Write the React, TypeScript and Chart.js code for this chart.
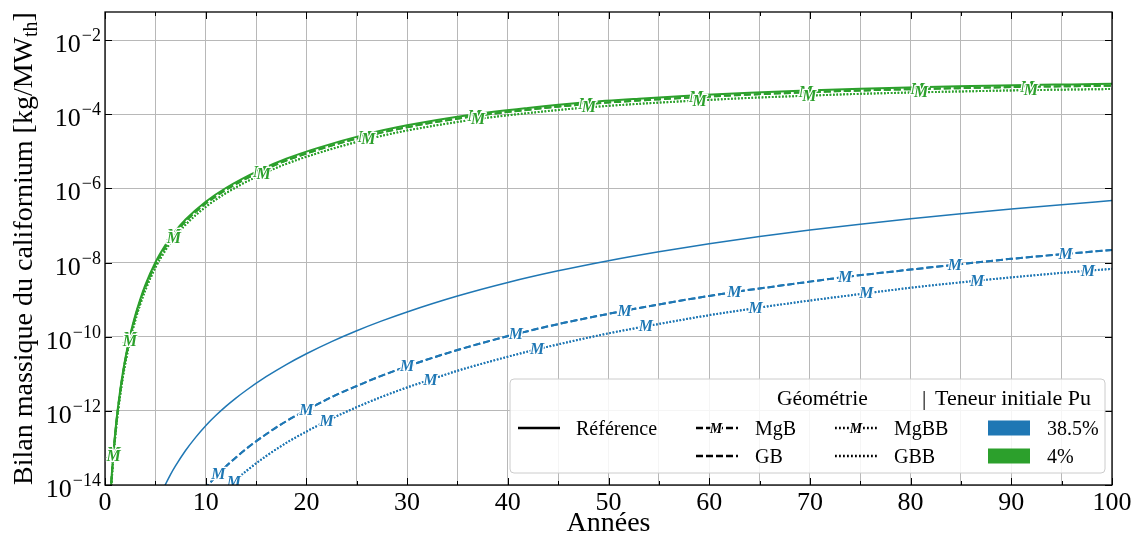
import React, { useEffect, useRef } from 'react';
import { Chart, registerables } from 'chart.js';

Chart.register(...registerables);

const FONT = '"Liberation Serif", "Times New Roman", serif';
const BLUE = '#1f77b4';
const GREEN = '#2ca02c';

// ---- 4% Pu (green): years and log10 of the mass [kg/MWth]
const gYears = [0.45, 0.55, 0.65, 0.75, 0.85, 1.0, 1.2, 1.5, 1.8, 2.1, 2.48, 3.0, 3.5, 4.0, 5.0, 6.0, 6.85, 8.0, 10, 12, 15.4, 18, 21, 25.8, 30, 36.7, 42, 47.7, 53, 58.7, 64, 69.6, 75, 80.7, 86, 91.6, 96, 100];
const gYearsBB = [0.45, 0.55, 0.65, 0.75, 0.85, 1.0, 1.2, 1.5, 1.8, 2.1, 2.48, 3.0, 3.5, 4.0, 5.0, 6.0, 6.85, 8.0, 10, 12, 15.75, 18, 21, 26.15, 30, 37.05, 42, 48.05, 53, 59.05, 64, 69.95, 75, 81.05, 86, 91.95, 96, 100];
const gRef = [-14.71, -14.23, -13.80, -13.42, -13.08, -12.63, -12.10, -11.46, -10.92, -10.47, -9.98, -9.43, -8.99, -8.61, -8.00, -7.53, -7.20, -6.84, -6.36, -5.99, -5.50, -5.20, -4.92, -4.55, -4.30, -4.00, -3.83, -3.68, -3.58, -3.49, -3.42, -3.36, -3.31, -3.27, -3.24, -3.21, -3.195, -3.18];
const gGB = [-14.76, -14.28, -13.85, -13.47, -13.13, -12.68, -12.15, -11.51, -10.97, -10.52, -10.03, -9.48, -9.04, -8.66, -8.05, -7.58, -7.25, -6.89, -6.41, -6.04, -5.55, -5.25, -4.97, -4.60, -4.35, -4.05, -3.88, -3.73, -3.63, -3.54, -3.47, -3.41, -3.36, -3.32, -3.29, -3.26, -3.245, -3.23];
const gMgB = [-14.76, -14.28, -13.85, -13.47, -13.13, -12.68, -12.15, -11.51, -10.97, -10.52, -10.03, -9.48, -9.04, -8.66, -8.05, -7.58, -7.25, -6.89, -6.41, -6.04, -5.55, -5.25, -4.97, -4.60, -4.35, -4.05, -3.88, -3.73, -3.63, -3.54, -3.47, -3.41, -3.36, -3.32, -3.29, -3.26, -3.245, -3.23];
const gGBB = [-14.85, -14.37, -13.94, -13.56, -13.22, -12.77, -12.24, -11.60, -11.06, -10.61, -10.12, -9.57, -9.13, -8.75, -8.14, -7.67, -7.34, -6.98, -6.50, -6.13, -5.64, -5.34, -5.06, -4.69, -4.44, -4.14, -3.97, -3.82, -3.72, -3.63, -3.56, -3.50, -3.45, -3.41, -3.38, -3.35, -3.335, -3.32];
const gMgBB = [-14.85, -14.37, -13.94, -13.56, -13.22, -12.77, -12.24, -11.60, -11.06, -10.61, -10.12, -9.57, -9.13, -8.75, -8.14, -7.67, -7.34, -6.98, -6.50, -6.13, -5.595, -5.34, -5.06, -4.67, -4.44, -4.13, -3.97, -3.814, -3.72, -3.63, -3.56, -3.50, -3.45, -3.41, -3.38, -3.35, -3.335, -3.32];
const gMarkMgB = [0.85, 2.48, 6.85, 15.4, 25.8, 36.7, 47.7, 58.7, 69.6, 80.7, 91.6];
const gMarkMgBB = [0.85, 2.48, 6.85, 15.75, 26.15, 37.05, 48.05, 59.05, 69.95, 81.05, 91.95];

// ---- 38.5% Pu (blue)
const bRefYears = [5.5, 6.5, 7, 8, 9, 10, 11, 12, 13, 14, 16, 18, 20, 22.5, 25, 27.5, 30, 35, 40, 45, 50, 55, 60, 65, 70, 75, 80, 85, 90, 95, 100];
const bRef = [-14.26, -13.72, -13.485, -13.07, -12.715, -12.40, -12.127, -11.88, -11.657, -11.451, -11.08, -10.752, -10.46, -10.132, -9.839, -9.574, -9.332, -8.903, -8.537, -8.224, -7.95, -7.709, -7.494, -7.301, -7.125, -6.965, -6.818, -6.683, -6.557, -6.44, -6.33];
const bDashYears = [9.8, 10.5, 11.25, 12, 13, 14, 16, 18, 20, 22.5, 25, 27.5, 30, 35, 40.8, 45, 51.6, 55, 60, 62.5, 65, 70, 73.5, 80, 84.4, 90, 95.4, 100];
const bGB = [-14.12, -13.92, -13.71, -13.50, -13.257, -13.03, -12.63, -12.28, -11.98, -11.63, -11.33, -11.05, -10.80, -10.36, -9.93, -9.66, -9.30, -9.13, -8.90, -8.795, -8.70, -8.515, -8.39, -8.19, -8.06, -7.90, -7.766, -7.66];
const bMgB = [-14.12, -13.92, -13.71, -13.50, -13.257, -13.03, -12.63, -12.28, -11.98, -11.63, -11.33, -11.05, -10.80, -10.36, -9.93, -9.66, -9.30, -9.13, -8.90, -8.795, -8.70, -8.515, -8.39, -8.19, -8.06, -7.90, -7.766, -7.66];
const bDotYears = [11.8, 12.4, 12.8, 14, 16, 18.4, 20, 22, 25, 27.5, 30, 32.3, 35, 40, 42.9, 47, 50, 53.7, 57, 60, 64.6, 70, 75.6, 80, 86.6, 90, 97.6, 100];
const bGBB = [-14.16, -14.01, -13.91, -13.63, -13.22, -12.80, -12.56, -12.275, -11.90, -11.62, -11.37, -11.16, -10.92, -10.54, -10.34, -10.085, -9.91, -9.72, -9.56, -9.42, -9.23, -9.025, -8.83, -8.68, -8.49, -8.40, -8.22, -8.17];
const bMgBB = [-14.16, -14.01, -13.91, -13.63, -13.22, -12.80, -12.56, -12.275, -11.90, -11.62, -11.37, -11.16, -10.92, -10.54, -10.34, -10.085, -9.91, -9.72, -9.56, -9.42, -9.23, -9.025, -8.83, -8.68, -8.49, -8.40, -8.22, -8.17];
const bMarkMgB = [11.25, 20, 30, 40.8, 51.6, 62.5, 73.5, 84.4, 95.4];
const bMarkMgBB = [12.8, 22, 32.3, 42.9, 53.7, 64.6, 75.6, 86.6, 97.6];

// ---- axes / ticks
const xTicks = [0, 5, 10, 15, 20, 25, 30, 35, 40, 45, 50, 55, 60, 65, 70, 75, 80, 85, 90, 95, 100];
const xLabels = [0, 10, 20, 30, 40, 50, 60, 70, 80, 90, 100];
const yExps = [-14, -12, -10, -8, -6, -4, -2];
const yMaxExp = -1.243;

const DASH = [7, 3];
const DOT = [1.6, 1.8];

function pts(years: number[], logs: number[]) {
  return years.map((x, i) => ({ x, y: Math.pow(10, logs[i]) }));
}

function drawM(ctx: CanvasRenderingContext2D, x: number, y: number, color: string, size: number) {
  ctx.font = `italic bold ${size}px ${FONT}`;
  ctx.textAlign = 'center';
  ctx.textBaseline = 'middle';
  ctx.lineJoin = 'round';
  ctx.strokeStyle = 'white';
  ctx.lineWidth = 2.5;
  ctx.strokeText('M', x, y + 1);
  ctx.fillStyle = color;
  ctx.fillText('M', x, y + 1);
}

export default function App() {
  const ref = useRef<HTMLCanvasElement>(null);

  useEffect(() => {
    const ds = (label: string, years: number[], logs: number[], color: string, dash: number[], width: number, marks?: number[]) => ({
      label,
      data: pts(years, logs),
      markYears: marks || null,
      borderColor: color,
      backgroundColor: color,
      borderWidth: width,
      borderDash: dash,
      borderCapStyle: 'butt',
      fill: false,
      cubicInterpolationMode: 'monotone',
      clip: 0,
      pointRadius: 0,
      pointHoverRadius: 0,
    });

    const deco = {
      id: 'deco',
      afterDatasetsDraw(chart: any) {
        const { ctx, chartArea: a } = chart;
        ctx.save();
        ctx.beginPath();
        ctx.rect(a.left, a.top, a.right - a.left, a.bottom - a.top);
        ctx.clip();
        chart.data.datasets.forEach((d: any, i: number) => {
          if (!d.markYears) return;
          const meta = chart.getDatasetMeta(i);
          meta.data.forEach((el: any, j: number) => {
            if (d.markYears.includes(d.data[j].x)) drawM(ctx, el.x, el.y, d.borderColor, 16);
          });
        });
        ctx.restore();
      },
      afterDraw(chart: any) {
        const { ctx, chartArea: a, scales } = chart;
        const x = scales.x;
        const y = scales.y;
        ctx.save();
        const line = (x1: number, y1: number, x2: number, y2: number) => {
          ctx.beginPath();
          ctx.moveTo(x1, y1);
          ctx.lineTo(x2, y2);
          ctx.stroke();
        };
        // frame
        ctx.strokeStyle = '#000';
        ctx.lineWidth = 1.3;
        ctx.strokeRect(a.left, a.top, a.right - a.left, a.bottom - a.top);
        // inward ticks
        ctx.lineWidth = 1;
        xTicks.forEach((v) => {
          const px = Math.round(x.getPixelForValue(v)) + 0.5;
          const len = v % 10 === 0 ? 7 : 4;
          line(px, a.bottom, px, a.bottom - len);
          line(px, a.top, px, a.top + len);
        });
        yExps.forEach((e) => {
          const py = Math.round(y.getPixelForValue(Math.pow(10, e))) + 0.5;
          line(a.left, py, a.left + 7, py);
          line(a.right, py, a.right - 7, py);
        });
        // x tick labels
        ctx.fillStyle = '#000';
        ctx.font = `26px ${FONT}`;
        ctx.textAlign = 'center';
        ctx.textBaseline = 'alphabetic';
        xLabels.forEach((v) => {
          ctx.fillText(String(v), x.getPixelForValue(v), a.bottom + 25);
        });
        // y tick labels 10^e
        ctx.textAlign = 'left';
        yExps.forEach((e) => {
          const py = y.getPixelForValue(Math.pow(10, e));
          const ex = '\u2212' + String(-e);
          ctx.font = `18px ${FONT}`;
          const we = ctx.measureText(ex).width;
          const right = 101;
          ctx.fillText(ex, right - we, py + 1);
          ctx.font = `26px ${FONT}`;
          const w10 = ctx.measureText('10').width;
          ctx.fillText('10', right - we - w10 - 1, py + 12);
        });
        // x title
        ctx.font = `28px ${FONT}`;
        ctx.textAlign = 'center';
        ctx.fillText('Années', (a.left + a.right) / 2, 531);
        // y title
        ctx.save();
        ctx.translate(32, (a.top + a.bottom) / 2);
        ctx.rotate(-Math.PI / 2);
        const main = 'Bilan massique du californium [kg/MW';
        const big = `28px ${FONT}`;
        const small = `20px ${FONT}`;
        ctx.font = big;
        const w1 = ctx.measureText(main).width;
        const w3 = ctx.measureText(']').width;
        ctx.font = small;
        const w2 = ctx.measureText('th').width;
        let sx = -(w1 + w2 + w3) / 2;
        ctx.textAlign = 'left';
        ctx.font = big;
        ctx.fillText(main, sx, 0);
        sx += w1;
        ctx.font = small;
        ctx.fillText('th', sx, 5);
        sx += w2;
        ctx.font = big;
        ctx.fillText(']', sx, 0);
        ctx.restore();

        // legend
        const L = 510, T = 379, R = 1105, B = 473, r = 4;
        ctx.beginPath();
        ctx.moveTo(L + r, T);
        ctx.arcTo(R, T, R, B, r);
        ctx.arcTo(R, B, L, B, r);
        ctx.arcTo(L, B, L, T, r);
        ctx.arcTo(L, T, R, T, r);
        ctx.closePath();
        ctx.fillStyle = 'rgba(255,255,255,0.85)';
        ctx.fill();
        ctx.strokeStyle = '#cccccc';
        ctx.lineWidth = 1;
        ctx.stroke();

        ctx.fillStyle = '#000';
        ctx.textAlign = 'left';
        ctx.textBaseline = 'alphabetic';
        ctx.font = `21.5px ${FONT}`;
        ctx.fillText('Géométrie', 777, 405);
        ctx.fillText('|', 922, 405);
        ctx.font = `22px ${FONT}`;
        ctx.fillText('Teneur initiale Pu', 935, 405);
        ctx.font = `20px ${FONT}`;
        const r1 = 428, r2 = 456;
        ctx.fillText('Référence', 576, r1 + 7);
        ctx.fillText('MgB', 755, r1 + 7);
        ctx.fillText('MgBB', 894, r1 + 7);
        ctx.fillText('38.5%', 1047, r1 + 7);
        ctx.fillText('GB', 755, r2 + 7);
        ctx.fillText('GBB', 894, r2 + 7);
        ctx.fillText('4%', 1047, r2 + 7);

        ctx.strokeStyle = '#000';
        ctx.lineWidth = 2.6;
        ctx.setLineDash([]);
        line(518, r1, 560, r1);
        ctx.setLineDash([7, 3]);
        line(696, r1, 738, r1);
        line(696, r2, 738, r2);
        ctx.setLineDash([1.8, 2.2]);
        line(835, r1, 878, r1);
        line(835, r2, 878, r2);
        ctx.setLineDash([]);
        drawM(ctx, 716, r1, '#000', 14);
        drawM(ctx, 856, r1, '#000', 14);
        ctx.fillStyle = BLUE;
        ctx.fillRect(988, r1 - 7.5, 42, 15);
        ctx.fillStyle = GREEN;
        ctx.fillRect(988, r2 - 7.5, 42, 15);
        ctx.restore();
      },
    };

    const chart = new Chart(ref.current!, {
      type: 'line',
      data: {
        datasets: [
          ds('MgB 4%', gYears, gMgB, GREEN, DASH, 2, gMarkMgB),
          ds('MgBB 4%', gYearsBB, gMgBB, GREEN, DOT, 2, gMarkMgBB),
          ds('MgB 38.5%', bDashYears, bMgB, BLUE, DASH, 2, bMarkMgB),
          ds('MgBB 38.5%', bDotYears, bMgBB, BLUE, DOT, 2, bMarkMgBB),
          ds('Référence 4%', gYears, gRef, GREEN, [], 2),
          ds('GB 4%', gYears, gGB, GREEN, DASH, 2),
          ds('GBB 4%', gYears, gGBB, GREEN, DOT, 2),
          ds('Référence 38.5%', bRefYears, bRef, BLUE, [], 1.5),
          ds('GB 38.5%', bDashYears, bGB, BLUE, DASH, 2),
          ds('GBB 38.5%', bDotYears, bGBB, BLUE, DOT, 2),
        ] as any,
      },
      options: {
        animation: false,
        responsive: true,
        maintainAspectRatio: false,
        layout: { padding: { left: 105, right: 29, top: 12, bottom: 55 } },
        plugins: { legend: { display: false }, tooltip: { enabled: false } },
        events: [],
        scales: {
          x: {
            type: 'linear',
            min: 0,
            max: 100,
            afterBuildTicks: (s: any) => {
              s.ticks = xTicks.map((v) => ({ value: v }));
            },
            ticks: { display: false },
            grid: { color: '#b8b8b8', lineWidth: 1, drawTicks: false },
            border: { display: false },
          },
          y: {
            type: 'logarithmic',
            min: 1e-14,
            max: Math.pow(10, yMaxExp),
            afterBuildTicks: (s: any) => {
              s.ticks = yExps.map((e) => ({ value: Math.pow(10, e) }));
            },
            ticks: { display: false },
            grid: { color: '#b8b8b8', lineWidth: 1, drawTicks: false },
            border: { display: false },
          },
        },
      } as any,
      plugins: [deco],
    });
    return () => chart.destroy();
  }, []);

  return (
    <div style={{ position: 'absolute', left: 0, top: 0, width: 1141, height: 540, background: '#fff' }}>
      <canvas ref={ref} />
    </div>
  );
}
